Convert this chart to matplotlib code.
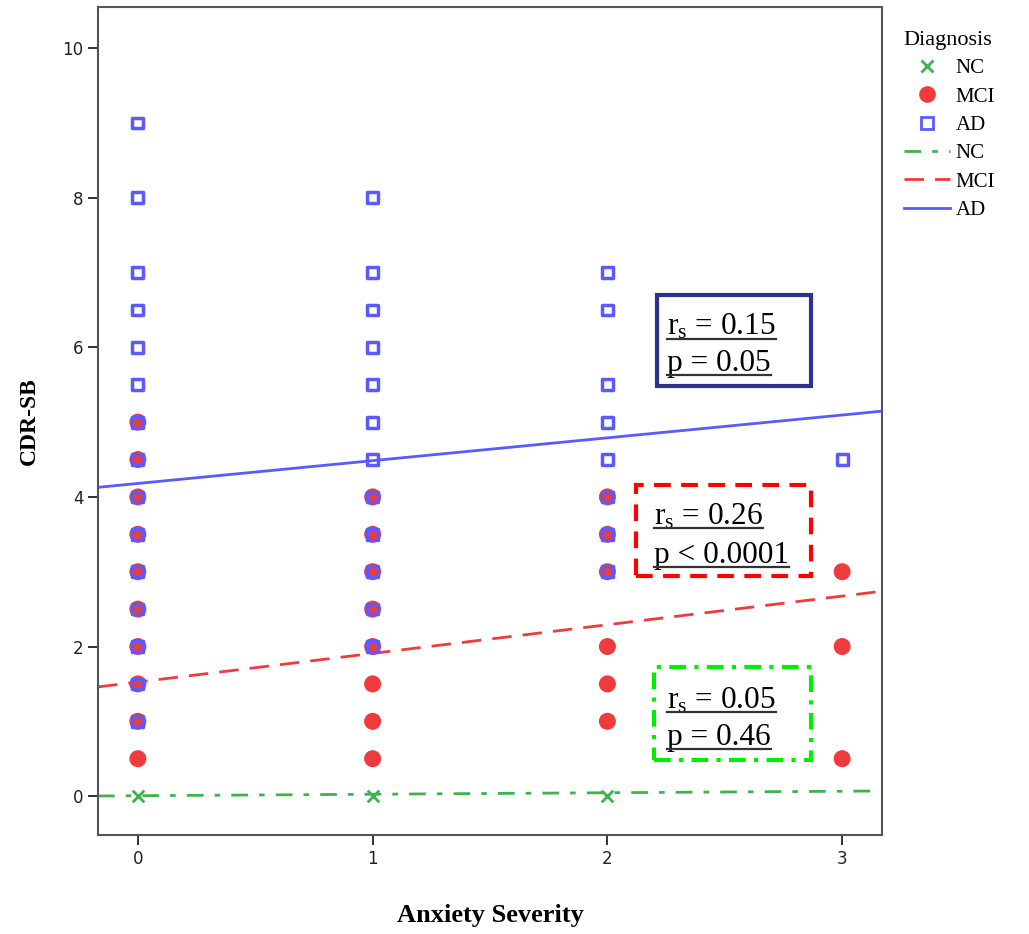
import matplotlib
matplotlib.use('Agg')
import matplotlib.pyplot as plt
from matplotlib.patches import Rectangle
from matplotlib.lines import Line2D

plt.rcParams['font.family'] = ['Liberation Serif', 'DejaVu Serif']
plt.rcParams['mathtext.fontset'] = 'custom'
plt.rcParams['mathtext.rm'] = 'Liberation Serif'

# data
nc_x = [0, 1, 2]
nc_y = [0, 0, 0]

mci_x = [0]*10 + [1]*8 + [2]*6 + [3]*3
mci_y = [5, 4.5, 4, 3.5, 3, 2.5, 2, 1.5, 1, 0.5,
         4, 3.5, 3, 2.5, 2, 1.5, 1, 0.5,
         4, 3.5, 3, 2, 1.5, 1,
         3, 2, 0.5]

ad_x = [0]*15 + [1]*12 + [2]*8 + [3]
ad_y = [9, 8, 7, 6.5, 6, 5.5, 5, 4.5, 4, 3.5, 3, 2.5, 2, 1.5, 1,
        8, 7, 6.5, 6, 5.5, 5, 4.5, 4, 3.5, 3, 2.5, 2,
        7, 6.5, 5.5, 5, 4.5, 4, 3.5, 3,
        4.5]

# fit lines (intercept, slope)
fit_nc = (0.005, 0.02)
fit_mci = (1.525, 0.383)
fit_ad = (4.18, 0.305)

stats_ad = ['0.15', 'p = 0.05']
stats_mci = ['0.26', 'p < 0.0001']
stats_nc = ['0.05', 'p = 0.46']

c_nc = '#3cb44b'
c_mci = '#ef3b3b'
c_ad = '#5a5aff'

fig = plt.figure(figsize=(10.29, 9.34), dpi=100)
ax = fig.add_axes([0.0952, 0.106, 0.762, 0.8865])

xmin, xmax = -0.17, 3.17
ax.set_xlim(xmin, xmax)
ax.set_ylim(-0.52, 10.55)

ax.scatter(mci_x, mci_y, s=150, color=c_mci, edgecolors='none', zorder=3, label='MCI')
ax.scatter(ad_x, ad_y, s=60, marker='s', facecolors='none', edgecolors=c_ad,
           linewidths=2.5, zorder=4, label='AD')
ax.scatter(nc_x, nc_y, s=70, marker='x', color=c_nc, linewidths=2, zorder=4, label='NC')

xs = [xmin, xmax]
l_nc, = ax.plot(xs, [fit_nc[0] + fit_nc[1]*x for x in xs], color=c_nc, lw=2,
                dashes=(6, 4, 2, 4), zorder=2, label='NC')
l_mci, = ax.plot(xs, [fit_mci[0] + fit_mci[1]*x for x in xs], color=c_mci, lw=2,
                 dashes=(7, 4), zorder=2, label='MCI')
l_ad, = ax.plot(xs, [fit_ad[0] + fit_ad[1]*x for x in xs], color=c_ad, lw=2,
                zorder=2, label='AD')

# stat boxes
ax.add_patch(Rectangle((2.21, 5.48), 0.658, 1.22, fill=False, ec='#2e3192', lw=3, zorder=5))
ax.add_patch(Rectangle((2.12, 2.94), 0.748, 1.22, fill=False, ec='#ff0000', lw=3,
                       ls=(0, (4, 2.5)), zorder=5))
ax.add_patch(Rectangle((2.20, 0.48), 0.668, 1.24, fill=False, ec='#00ee00', lw=3,
                       ls=(0, (4, 2, 1, 2)), zorder=5))

texts = []
for (tx, ty1, ty2, st) in [(2.255, 6.27, 5.78, stats_ad),
                           (2.20, 3.74, 3.22, stats_mci),
                           (2.255, 1.28, 0.78, stats_nc)]:
    t1 = ax.text(tx, ty1, r'$\mathregular{r_s}$ = ' + st[0], fontsize=22.5, va='center', zorder=6)
    t2 = ax.text(tx, ty2, st[1], fontsize=22.5, va='center', zorder=6)
    texts += [t1, t2]

ax.set_xticks([0, 1, 2, 3])
ax.set_yticks([0, 2, 4, 6, 8, 10])
ax.tick_params(axis='both', direction='out', length=7, width=1.3, labelsize=12,
               colors='#222222', labelfontfamily='DejaVu Sans')
for sp in ax.spines.values():
    sp.set_color('#555555')
    sp.set_linewidth(1.5)

ax.set_xlabel('Anxiety Severity', fontsize=19, fontweight='bold', labelpad=26)
ax.set_ylabel('CDR-SB', fontsize=17, fontweight='bold', labelpad=16)

sc_handles = [Line2D([], [], ls='none', marker='x', color=c_nc, ms=8, mew=2),
              Line2D([], [], ls='none', marker='o', color=c_mci, ms=12, mec='none'),
              Line2D([], [], ls='none', marker='s', mfc='none', mec=c_ad, ms=8, mew=2)]
leg = fig.legend(sc_handles + [l_nc, l_mci, l_ad],
                 ['NC', 'MCI', 'AD', 'NC', 'MCI', 'AD'],
                 title='Diagnosis', loc='upper left', bbox_to_anchor=(0.86, 0.987),
                 frameon=False, fontsize=15, title_fontsize=16, handlelength=2.2,
                 labelspacing=0.42, handletextpad=0.3)
leg._legend_box.align = 'left'

# underline the stat texts
fig.canvas.draw()
r = fig.canvas.get_renderer()
inv = fig.transFigure.inverted()
for t in texts:
    bb = t.get_window_extent(r)
    (x0, y0), (x1, _) = inv.transform([(bb.x0, bb.y0 + 3), (bb.x1, bb.y0)])
    fig.add_artist(Line2D([x0, x1], [y0, y0], color='#333333', lw=1.6, zorder=7))

fig.savefig('out.png', dpi=100)
